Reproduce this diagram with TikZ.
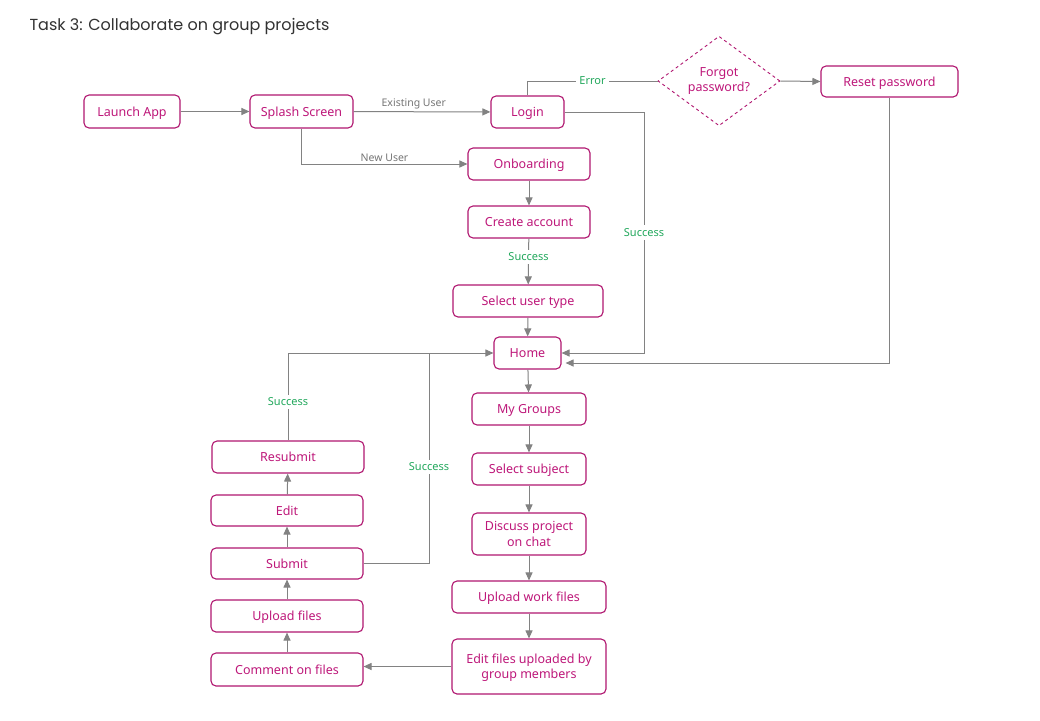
\documentclass[tikz,border=0pt]{standalone}
\usepackage{fontspec}
\setmainfont{Noto Sans}
\newfontfamily\titlefont{Poppins}
\usetikzlibrary{arrows.meta,shapes.geometric,calc}
\definecolor{mag}{RGB}{176,22,112}
\definecolor{magtxt}{RGB}{190,24,122}
\definecolor{lgray}{RGB}{130,130,130}
\definecolor{lblgray}{RGB}{118,118,118}
\definecolor{okgreen}{RGB}{34,168,92}
\definecolor{titlegray}{RGB}{50,50,50}
\begin{document}
\begin{tikzpicture}[x=1pt,y=-1pt,
  box/.style={draw=mag, line width=1.1pt, rounded corners=5pt, text=magtxt,
    font=\fontsize{12.5}{15.5}\selectfont, inner sep=0pt, align=center, minimum height=32pt,
    text height=9pt, text depth=0pt},
  twoline/.style={text height=24.5pt, text depth=0pt},
  conn/.style={draw=lgray, line width=1pt, -{Triangle[length=8pt,width=7pt]}},
  plainline/.style={draw=lgray, line width=1pt},
  lbl/.style={font=\fontsize{10.5}{12}\selectfont, text=lblgray, inner sep=2pt},
  ok/.style={font=\fontsize{11}{13}\selectfont, text=okgreen, fill=white, inner sep=3pt}]
\useasboundingbox (0,0) rectangle (1040,720);
\fill[white] (0,0) rectangle (1040,720);

\node[anchor=west, font=\titlefont\fontsize{16}{18}\selectfont, text=titlegray] (title) at (26,27) {Task 3: Collaborate on group projects};

% top row
\node[box, minimum width=96pt, minimum height=33pt] (launch) at (132,111.5) {Launch App};
\node[box, minimum width=103pt, minimum height=33pt] (splash) at (301.5,111.5) {Splash Screen};
\node[box, minimum width=73pt] (login) at (527.5,112) {Login};
\node[draw=mag, dashed, line width=0.9pt, diamond, minimum width=122pt, minimum height=82pt,
  inner sep=0pt, text=magtxt, align=center, font=\fontsize{12.5}{15.5}\selectfont] (forgot) at (719,81) {Forgot\\password?};
\node[box, minimum width=137pt, minimum height=31pt] (reset) at (889.5,81.5) {Reset password};

% middle column
\node[box, minimum width=122pt] (onb) at (529,164) {Onboarding};
\node[box, minimum width=122pt] (create) at (529,222) {Create account};
\node[box, minimum width=150pt] (seltype) at (528,301) {Select user type};
\node[box, minimum width=67pt] (home) at (527.5,353) {Home};
\node[box, minimum width=114pt] (groups) at (529,409) {My Groups};
\node[box, minimum width=114pt] (subject) at (529,469) {Select subject};
\node[box, twoline, minimum width=114pt, minimum height=42pt] (discuss) at (529,534) {Discuss project\\on chat};
\node[box, minimum width=154pt] (uploadwork) at (529,597) {Upload work files};
\node[box, twoline, minimum width=154pt, minimum height=55pt] (editfiles) at (529,666.5) {Edit files uploaded by\\group members};

% left column
\node[box, minimum width=152pt, minimum height=33pt] (comment) at (287,669.5) {Comment on files};
\node[box, minimum width=152pt] (uploadf) at (287,616) {Upload files};
\node[box, minimum width=152pt, minimum height=31pt] (submit) at (287,563.5) {Submit};
\node[box, minimum width=152pt, minimum height=31pt] (edit) at (287,510.5) {Edit};
\node[box, minimum width=152pt] (resub) at (288,457) {Resubmit};

\coordinate (cx1) at (644,0);
\coordinate (cx2) at (429,0);

% connectors
\draw[conn] (launch) -- (splash);
\draw[conn] (splash) -- node[lbl, above, pos=0.44]{Existing User} (login);
\draw[conn] (splash.south) |- node[lbl, above, pos=0.75]{New User} (onb.west);
\draw[plainline] (login.north) |- node[ok, pos=0.75]{Error} (forgot.west);
\draw[conn] (forgot.east) -- (reset.west);
\draw[conn] (login.east) -| node[ok, pos=0.75]{Success} (cx1 |- home.east) -- (home.east);
\draw[conn] (reset.south) |- ($(home.east)+(4,10)$);
\draw[conn] (onb) -- (create);
\draw[conn] (create) -- node[ok, pos=0.4]{Success} (seltype);
\draw[conn] (seltype) -- (home);
\draw[conn] (home) -- (groups);
\draw[conn] (groups) -- (subject);
\draw[conn] (subject) -- (discuss);
\draw[conn] (discuss) -- (uploadwork);
\draw[conn] (uploadwork) -- (editfiles);
\draw[conn] (editfiles.west) -- (comment.east |- editfiles.west);
\draw[conn] (comment) -- (uploadf);
\draw[conn] (uploadf) -- (submit);
\draw[conn] (submit) -- (edit);
\draw[conn] (edit) -- (resub);
\draw[conn] (resub.north) |- node[ok, pos=0.22]{Success} (home.west);
\draw[plainline] (submit.east) -| node[ok, pos=0.73]{Success} (cx2 |- home.west);
\end{tikzpicture}
\end{document}
